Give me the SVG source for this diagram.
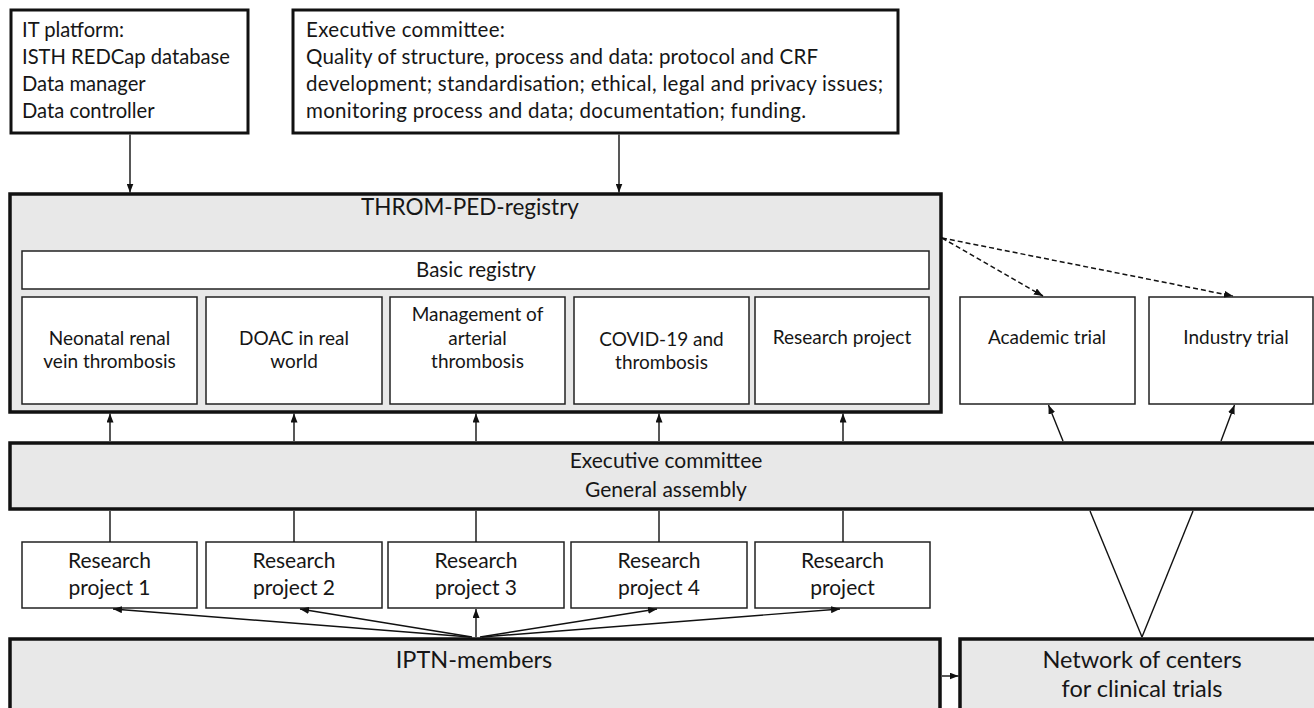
<svg xmlns="http://www.w3.org/2000/svg" width="1314" height="708" viewBox="0 0 1314 708">
<defs>
<marker id="ah" viewBox="0 0 9 7" refX="9" refY="3.5" markerWidth="9" markerHeight="7" markerUnits="userSpaceOnUse" orient="auto"><path d="M0,0 L9,3.5 L0,7 z" fill="#111"/></marker>
<style>
text{font-family:Lato,"Open Sans","Liberation Sans",sans-serif;fill:#161616;}
.thick{fill:#fff;stroke:#111;stroke-width:3;}
.thickg{fill:#e8e8e8;stroke:#111;stroke-width:3.5;}
.thin{fill:#fff;stroke:#222;stroke-width:1.5;}
.top{font-size:20.2px;}
.ex{font-size:20.5px;}
.mid{font-size:19px;text-anchor:middle;}
.br{font-size:20.5px;text-anchor:middle;}
.big{font-size:22.5px;text-anchor:middle;}
.bot{font-size:23.5px;text-anchor:middle;}
.rp{font-size:21px;text-anchor:middle;}
.c{stroke:#111;stroke-width:1.4;fill:none;}
.a{stroke:#111;stroke-width:1.4;fill:none;marker-end:url(#ah);}
.d{stroke:#111;stroke-width:1.5;fill:none;stroke-dasharray:5 3;marker-end:url(#ah);}
</style>
</defs>
<rect width="1314" height="708" fill="#fff"/>

<g id="it-platform">
<rect class="thick" x="11" y="10" width="237" height="123"/>
<text class="top" x="22" y="37">IT platform:</text>
<text class="top" x="22" y="64">ISTH REDCap database</text>
<text class="top" x="22" y="91">Data manager</text>
<text class="top" x="22" y="118">Data controller</text>
</g>

<g id="exec-top">
<rect class="thick" x="293" y="10" width="605" height="123"/>
<text class="ex" x="306" y="37" textLength="199">Executive committee:</text>
<text class="ex" x="306" y="64" textLength="512">Quality of structure, process and data: protocol and CRF</text>
<text class="ex" x="306" y="91" textLength="577">development; standardisation; ethical, legal and privacy issues;</text>
<text class="ex" x="306" y="118" textLength="500">monitoring process and data; documentation; funding.</text>
</g>

<g id="throm-ped">
<rect class="thickg" x="10" y="194" width="931" height="218"/>
<text class="big" x="470" y="215">THROM-PED-registry</text>
</g>
<g id="basic-registry">
<rect class="thin" x="22" y="251" width="907" height="38"/>
<text class="br" x="476" y="277">Basic registry</text>
</g>
<g id="neonatal">
<rect class="thin" x="22" y="297" width="175" height="107"/>
<text class="mid" x="109.5" y="345">Neonatal renal</text>
<text class="mid" x="109.5" y="368">vein thrombosis</text>
</g>
<g id="doac">
<rect class="thin" x="206" y="297" width="176" height="107"/>
<text class="mid" x="294" y="345">DOAC in real</text>
<text class="mid" x="294" y="368">world</text>
</g>
<g id="arterial">
<rect class="thin" x="390" y="297" width="175" height="107"/>
<text class="mid" x="477.5" y="321">Management of</text>
<text class="mid" x="477.5" y="345">arterial</text>
<text class="mid" x="477.5" y="368">thrombosis</text>
</g>
<g id="covid">
<rect class="thin" x="574" y="297" width="175" height="107"/>
<text class="mid" x="661.5" y="346">COVID-19 and</text>
<text class="mid" x="661.5" y="369">thrombosis</text>
</g>
<g id="research-sub">
<rect class="thin" x="755" y="297" width="174" height="107"/>
<text class="mid" x="842" y="344">Research project</text>
</g>

<g id="academic-trial">
<rect class="thin" x="960" y="297" width="175" height="107"/>
<text class="mid" x="1047" y="344">Academic trial</text>
</g>
<g id="industry-trial">
<rect class="thin" x="1149" y="297" width="164" height="107"/>
<text class="mid" x="1236" y="344">Industry trial</text>
</g>

<g id="exec-general">
<rect class="thickg" x="10" y="443" width="1312" height="66"/>
<text class="rp" x="666" y="468">Executive committee</text>
<text class="rp" x="666" y="497">General assembly</text>
</g>

<g id="rp1">
<rect class="thin" x="22" y="542" width="175" height="66"/>
<text class="rp" x="109.5" y="568">Research</text>
<text class="rp" x="109.5" y="595">project 1</text>
</g>
<g id="rp2">
<rect class="thin" x="206" y="542" width="176" height="66"/>
<text class="rp" x="294" y="568">Research</text>
<text class="rp" x="294" y="595">project 2</text>
</g>
<g id="rp3">
<rect class="thin" x="388" y="542" width="176" height="66"/>
<text class="rp" x="476" y="568">Research</text>
<text class="rp" x="476" y="595">project 3</text>
</g>
<g id="rp4">
<rect class="thin" x="571" y="542" width="176" height="66"/>
<text class="rp" x="659" y="568">Research</text>
<text class="rp" x="659" y="595">project 4</text>
</g>
<g id="rp5">
<rect class="thin" x="755" y="542" width="175" height="66"/>
<text class="rp" x="842.5" y="568">Research</text>
<text class="rp" x="842.5" y="595">project</text>
</g>

<g id="iptn">
<rect class="thickg" x="10" y="639" width="930" height="90"/>
<text class="bot" x="474" y="668">IPTN-members</text>
</g>
<g id="network">
<rect class="thickg" x="960" y="639" width="362" height="90"/>
<text class="bot" x="1142" y="668">Network of centers</text>
<text class="bot" x="1142" y="697">for clinical trials</text>
</g>

<g id="connectors">
<line class="a" x1="130" y1="134.5" x2="130" y2="192.5"/>
<line class="a" x1="619" y1="134.5" x2="619" y2="192.5"/>
<line class="d" x1="942" y1="238" x2="1043" y2="296"/>
<line class="d" x1="942" y1="238" x2="1233" y2="296"/>
<line class="a" x1="110" y1="441" x2="110" y2="413.5"/>
<line class="a" x1="294" y1="441" x2="294" y2="413.5"/>
<line class="a" x1="476" y1="441" x2="476" y2="413.5"/>
<line class="a" x1="659" y1="441" x2="659" y2="413.5"/>
<line class="a" x1="843" y1="441" x2="843" y2="413.5"/>
<line class="c" x1="110" y1="511" x2="110" y2="542"/>
<line class="c" x1="294" y1="511" x2="294" y2="542"/>
<line class="c" x1="476" y1="511" x2="476" y2="542"/>
<line class="c" x1="659" y1="511" x2="659" y2="542"/>
<line class="c" x1="843" y1="511" x2="843" y2="542"/>
<line class="a" x1="470" y1="637" x2="113" y2="609"/>
<line class="a" x1="472" y1="637" x2="300" y2="609"/>
<line class="a" x1="476" y1="637" x2="476" y2="609"/>
<line class="a" x1="480" y1="637" x2="657" y2="609"/>
<line class="a" x1="482" y1="637" x2="840" y2="609"/>
<line class="a" x1="942" y1="676" x2="958.5" y2="676"/>
<line class="c" x1="1142" y1="637" x2="1090" y2="511"/>
<line class="c" x1="1142" y1="637" x2="1193" y2="511"/>
<line class="a" x1="1063" y1="441" x2="1048.5" y2="405"/>
<line class="a" x1="1221" y1="441" x2="1234.5" y2="405"/>
</g>
</svg>
